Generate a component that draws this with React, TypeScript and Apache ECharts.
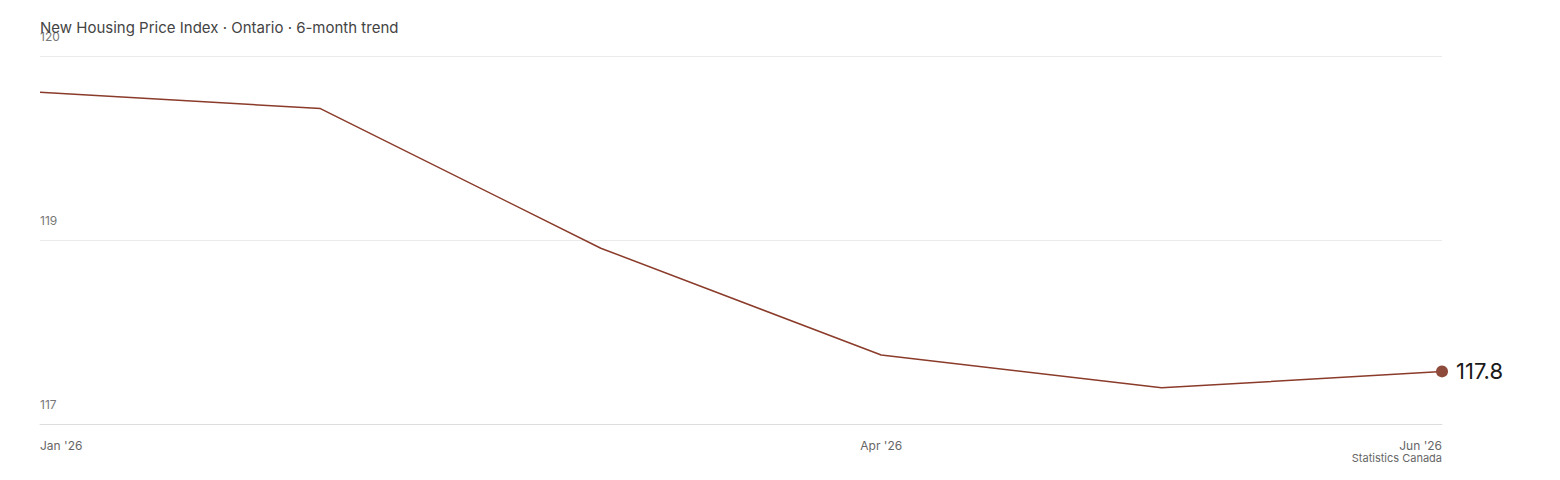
import React, { useEffect, useRef } from "react";
import * as echarts from "echarts";

const categories = ["Jan '26", "Feb '26", "Mar '26", "Apr '26", "May '26", "Jun '26"];
const indexValues = [119.5, 119.4, 118.55, 117.9, 117.7, 117.8];
const labelledMonths = [0, 3, 5];
const yMin = 117.48;
const yMax = 119.72;
const yStep = 1.12;
const titleText = "New Housing Price Index · Ontario · 6-month trend";
const sourceText = "Statistics Canada";

const FONT = "Inter, 'Noto Sans', sans-serif";

export default function App() {
  const ref = useRef<HTMLDivElement>(null);
  useEffect(() => {
    if (!ref.current) return;
    const chart = echarts.init(ref.current, undefined, { renderer: "svg" });
    const last = indexValues.length - 1;
    chart.setOption({
      animation: false,
      textStyle: { fontFamily: FONT },
      title: {
        text: titleText,
        left: 27,
        top: 7,
        textStyle: { fontFamily: FONT, fontSize: 15, fontWeight: "normal", color: "#444" },
      },
      grid: { left: 32, right: 110, top: 48, bottom: 48, containLabel: false },
      xAxis: {
        type: "category",
        data: categories,
        boundaryGap: false,
        axisLine: { show: true, lineStyle: { color: "#ddd", width: 1 } },
        axisTick: { show: false },
        axisLabel: {
          interval: (i: number) => labelledMonths.includes(i),
          color: "#666",
          fontSize: 12,
          fontFamily: FONT,
          margin: 15,
          alignMinLabel: "left",
          alignMaxLabel: "right",
        },
        splitLine: { show: false },
      },
      yAxis: {
        type: "value",
        min: yMin,
        max: yMax,
        interval: yStep,
        axisLine: { show: false },
        axisTick: { show: false },
        axisLabel: {
          inside: true,
          margin: 0,
          verticalAlign: "bottom",
          padding: [0, 0, 14, 0],
          color: "#777",
          fontSize: 12,
          fontFamily: FONT,
          formatter: (v: number) => String(Math.round(v)),
        },
        splitLine: { show: true, lineStyle: { color: "#eaeaea", width: 1 } },
      },
      series: [
        {
          type: "line",
          data: indexValues.map((v, i) =>
            i === last
              ? {
                  value: v,
                  symbol: "circle",
                  symbolSize: 12,
                  itemStyle: { color: "#8e4b3c" },
                  label: {
                    show: true,
                    position: "right",
                    distance: 8,
                    formatter: (p: any) => p.value.toFixed(1),
                    fontSize: 22,
                    color: "#1a1a1a",
                    fontFamily: FONT,
                  },
                }
              : { value: v, symbol: "none" }
          ),
          showSymbol: true,
          showAllSymbol: true,
          lineStyle: { color: "#8a3b2a", width: 1.5 },
          itemStyle: { color: "#8a3b2a" },
          emphasis: { disabled: true },
        },
      ],
      graphic: [
        {
          type: "text",
          right: 110,
          top: 444,
          style: { text: sourceText, fontSize: 11, fill: "#666", fontFamily: FONT },
        },
      ],
    });
    return () => chart.dispose();
  }, []);
  return <div ref={ref} style={{ width: 1544, height: 464 }} />;
}
